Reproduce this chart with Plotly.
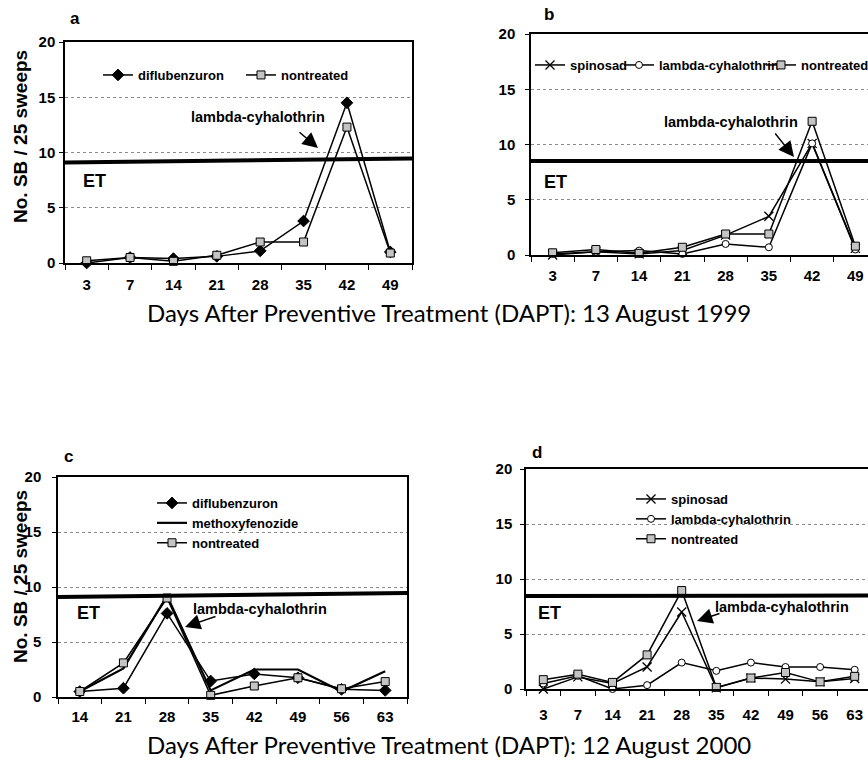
import plotly.graph_objects as go

W, H = 868, 781

# ---------------- data ----------------
days_1999 = ["3", "7", "14", "21", "28", "35", "42", "49"]
a_diflubenzuron = [0.0, 0.5, 0.4, 0.6, 1.1, 3.8, 14.5, 1.0]
a_nontreated = [0.2, 0.5, 0.15, 0.7, 1.9, 1.9, 12.3, 0.9]

b_spinosad = [0.0, 0.3, 0.1, 0.4, 1.8, 3.5, 10.1, 0.6]
b_lambda = [0.1, 0.3, 0.4, 0.1, 1.0, 0.7, 10.1, 0.5]
b_nontreated = [0.2, 0.5, 0.15, 0.7, 1.9, 1.9, 12.1, 0.8]

days_2000_c = ["14", "21", "28", "35", "42", "49", "56", "63"]
c_diflubenzuron = [0.5, 0.8, 7.6, 1.45, 2.1, 1.75, 0.7, 0.6]
c_methoxyfenozide = [0.5, 2.6, 9.2, 0.6, 2.5, 2.5, 0.5, 2.35]
c_nontreated = [0.5, 3.1, 9.0, 0.15, 1.0, 1.75, 0.75, 1.4]

days_2000_d = ["3", "7", "14", "21", "28", "35", "42", "49", "56", "63"]
d_spinosad = [0.0, 1.1, 0.5, 2.0, 7.0, 0.1, 1.0, 0.9, 0.65, 0.95]
d_lambda = [0.5, 1.2, 0.0, 0.35, 2.4, 1.65, 2.4, 2.0, 2.0, 1.75]
d_nontreated = [0.85, 1.35, 0.6, 3.1, 8.95, 0.15, 1.0, 1.5, 0.65, 1.15]

# economic threshold line (start, end level)
et_a = [9.1, 9.45]
et_b = [8.5, 8.5]
et_c = [9.1, 9.45]
et_d = [8.45, 8.5]

y_ticks = [0, 5, 10, 15, 20]
caption_1999 = "Days After Preventive Treatment (DAPT): 13 August 1999"
caption_2000 = "Days After Preventive Treatment (DAPT): 12 August 2000"


# ---------------- helpers ----------------
def px(x):
    return x / W


def py(y):
    return 1 - y / H


FONT = "Liberation Sans, Arial, sans-serif"

fig = go.Figure()

line_k = dict(color="black", width=1.5)
mk_diamond = dict(symbol="diamond", size=9, color="black", line=dict(color="black", width=1))
mk_square = dict(symbol="square", size=8, color="#c4c4c4", line=dict(color="black", width=1))
mk_circle = dict(symbol="circle", size=7, color="white", line=dict(color="black", width=1))
mk_x = dict(symbol="x-thin", size=9, color="black", line=dict(color="black", width=1.3))


def add(x, y, name, marker, xa, ya, legend, mode="lines+markers", line=None, lw=None):
    fig.add_trace(go.Scatter(
        x=x, y=y, name=name, mode=mode,
        marker=marker, line=line or line_k,
        xaxis=xa, yaxis=ya, legend=legend, cliponaxis=False,
        legendwidth=lw,
    ))


# panel a
add(days_1999, a_diflubenzuron, "diflubenzuron", mk_diamond, "x", "y", "legend", lw=98)
add(days_1999, a_nontreated, "nontreated", mk_square, "x", "y", "legend", lw=70)
# panel b
add(days_1999, b_spinosad, "spinosad", mk_x, "x2", "y2", "legend2", lw=44)
add(days_1999, b_lambda, "lambda-cyhalothrin", mk_circle, "x2", "y2", "legend2", lw=97)
add(days_1999, b_nontreated, "nontreated", mk_square, "x2", "y2", "legend2", lw=62)
# panel c
add(days_2000_c, c_diflubenzuron, "diflubenzuron", mk_diamond, "x3", "y3", "legend3")
add(days_2000_c, c_methoxyfenozide, "methoxyfenozide", None, "x3", "y3", "legend3",
    mode="lines", line=dict(color="black", width=2.2))
add(days_2000_c, c_nontreated, "nontreated", mk_square, "x3", "y3", "legend3")
# panel d
add(days_2000_d, d_spinosad, "spinosad", mk_x, "x4", "y4", "legend4")
add(days_2000_d, d_lambda, "lambda-cyhalothrin", mk_circle, "x4", "y4", "legend4")
add(days_2000_d, d_nontreated, "nontreated", mk_square, "x4", "y4", "legend4")

# ---------------- axes ----------------
tickfont = dict(family=FONT, size=15, color="black", weight="bold")


def xaxis(dom, rng, standoff):
    return dict(
        domain=dom, type="category", range=rng,
        showline=True, linecolor="black", linewidth=1.5, mirror=True,
        ticks="outside", tickson="boundaries", ticklen=5, tickcolor="black",
        tickfont=tickfont, showgrid=False, zeroline=False,
        ticklabelstandoff=standoff, fixedrange=True,
    )


def yaxis(dom, anchor, mirror, standoff):
    return dict(
        domain=dom, anchor=anchor, range=[0, 20], tickvals=y_ticks,
        showline=True, linecolor="black", linewidth=1.5, mirror=mirror,
        ticks="outside", ticklen=4, tickcolor="black", tickfont=tickfont,
        showgrid=True, gridcolor="#8a8a8a", griddash="dot", gridwidth=1,
        zeroline=False, ticklabelstandoff=standoff, fixedrange=True,
    )


b_right = -0.5 + 8 * (W - 531) / 346.0
d_right = -0.5 + 10 * (W - 526) / 346.0

fig.update_layout(
    xaxis=xaxis([px(65), px(412)], [-0.5, 7.5], 7) | dict(anchor="y"),
    yaxis=yaxis([py(263), py(42)], "x", True, 1),
    xaxis2=xaxis([px(531), 1.0], [-0.5, b_right], 6) | dict(anchor="y2"),
    yaxis2=yaxis([py(255), py(34)], "x2", False, 7),
    xaxis3=xaxis([px(58), px(407)], [-0.5, 7.5], 5) | dict(anchor="y3"),
    yaxis3=yaxis([py(697), py(477)], "x3", True, 8),
    xaxis4=xaxis([px(526), 1.0], [-0.5, d_right], 11) | dict(anchor="y4"),
    yaxis4=yaxis([py(689), py(469)], "x4", False, 5),
)

# ---------------- legends ----------------
legfont = dict(family=FONT, size=13, color="black", weight="bold")


def legend(x, y, orient):
    return dict(
        x=px(x), y=py(y), xanchor="left", yanchor="middle",
        orientation=orient, font=legfont, bgcolor="rgba(0,0,0,0)",
        itemwidth=30, tracegroupgap=0, borderwidth=0,
    )


fig.update_layout(
    legend=legend(98, 75, "h"),
    legend2=legend(530, 65, "h"),
    legend3=legend(152, 523, "v"),
    legend4=legend(631, 519, "v"),
    showlegend=True,
)

# ---------------- ET lines ----------------
for xa, ya, et in [("x", "y", et_a), ("x2", "y2", et_b), ("x3", "y3", et_c), ("x4", "y4", et_d)]:
    fig.add_shape(type="line", xref=xa + " domain", yref=ya, x0=0, x1=1,
                  y0=et[0], y1=et[1], line=dict(color="black", width=4))

# ---------------- annotations ----------------
ann = []
bold = lambda s: dict(family=FONT, size=s, color="black", weight="bold")
C = dict(xref="paper", yref="paper", xanchor="center", yanchor="middle")

for lbl, (x, y) in zip("abcd", [(75, 19), (549, 15), (68, 457), (537, 452)]):
    ann.append(dict(text=lbl, x=px(x), y=py(y), showarrow=False, font=bold(17), **C))

for (x, y) in [(94, 181), (555, 182), (88, 613), (549, 613)]:
    ann.append(dict(text="ET", x=px(x), y=py(y), showarrow=False, font=bold(18), **C))

for (x, y) in [(258, 117), (731, 122), (260, 609), (782, 607)]:
    ann.append(dict(text="lambda-cyhalothrin", x=px(x), y=py(y), showarrow=False,
                    font=bold(14.5), **C))

for (tx, ty, ax, ay) in [(318, 148, -20, -17), (794, 157, -20, -25),
                         (185, 627, 32, -11), (697, 621, 24, -8)]:
    ann.append(dict(text="", x=px(tx), y=py(ty), showarrow=True, ax=ax, ay=ay,
                    arrowhead=2, arrowsize=2.2, arrowwidth=1.4, arrowcolor="black",
                    standoff=0, **C))

for (x, y) in [(20, 137), (20, 577)]:
    ann.append(dict(text="No. SB / 25 sweeps", x=px(x), y=py(y), showarrow=False,
                    textangle=-90, font=bold(19), **C))

capfont = dict(family="Lato, Open Sans, sans-serif", size=24, color="black")
ann.append(dict(text=caption_1999, x=px(449), y=py(313), showarrow=False, font=capfont, **C))
ann.append(dict(text=caption_2000, x=px(449), y=py(744), showarrow=False, font=capfont, **C))

fig.update_layout(
    annotations=ann,
    width=W, height=H,
    margin=dict(l=0, r=0, t=0, b=0, autoexpand=False),
    paper_bgcolor="white", plot_bgcolor="white",
    font=dict(family=FONT, color="black"),
)

fig.write_html(
    "out.html",
    config={"displayModeBar": False},
    post_script="document.body.style.margin='0';document.body.style.overflow='hidden';",
)
